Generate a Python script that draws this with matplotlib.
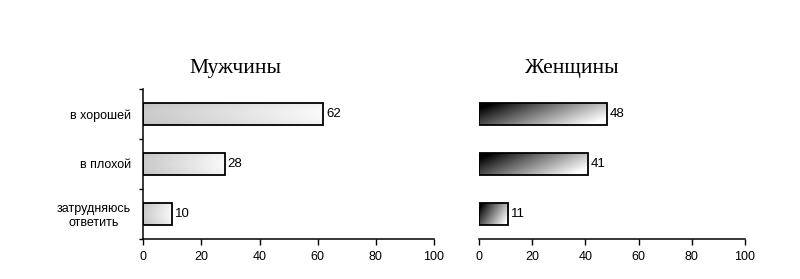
import numpy as np
import matplotlib
matplotlib.use("Agg")
import matplotlib.pyplot as plt

categories = ["в хорошей", "в плохой", "затрудняюсь\nответить"]
men = [62, 28, 10]
women = [48, 41, 11]
titles = ["Мужчины", "Женщины"]
xticks = [0, 20, 40, 60, 80, 100]

plt.rcParams['font.family'] = ['Liberation Sans', 'DejaVu Sans']

fig = plt.figure(figsize=(8, 2.79), dpi=100)
ax1 = fig.add_axes([0.179, 0.1434, 0.3635, 0.5376])
ax2 = fig.add_axes([0.599, 0.1434, 0.332, 0.5376])

ypos = np.arange(len(categories))[::-1]
h = 0.44


def men_grad(nx=200, ny=50):
    u = np.linspace(0, 1, nx)[None, :]
    v = np.linspace(0, 1, ny)[:, None]
    g = 0.76 + 0.19 * u + 0.03 * np.sin(np.pi * v)
    return np.clip(g, 0, 1)


def women_grad(nx=200, ny=50):
    u = np.linspace(0, 1, nx)[None, :]
    v = np.linspace(0, 1, ny)[:, None]
    g = (u + 0.45 * v - 0.12) / 1.2
    return np.clip(g, 0, 1) ** 0.9


for ax, vals, gf in [(ax1, men, men_grad), (ax2, women, women_grad)]:
    bars = ax.barh(ypos, vals, height=h, facecolor='none', edgecolor='black', linewidth=1.3, zorder=3)
    for b, v in zip(bars, vals):
        x0, y0 = b.get_x(), b.get_y()
        w, hh = b.get_width(), b.get_height()
        im = ax.imshow(gf(), cmap='gray', vmin=0, vmax=1, extent=(x0, x0 + w, y0, y0 + hh),
                       aspect='auto', origin='upper', zorder=2, interpolation='bilinear')
        im.set_clip_path(b)
        ax.text(x0 + w + 1.0, y0 + hh / 2, str(v), va='center', ha='left', fontsize=9.5, zorder=4)
    ax.set_xlim(0, 100)
    ax.set_ylim(-0.5, len(categories) - 0.5)
    ax.set_xticks(xticks)
    ax.tick_params(axis='x', direction='out', length=4, width=1, labelsize=9, pad=5)
    for s in ['top', 'right']:
        ax.spines[s].set_visible(False)
    ax.spines['bottom'].set_linewidth(1.1)

# titles (centered left of axes centre, as in the reference)
fig.text(235 / 800, 1 - 68 / 279, titles[0], ha='center', va='center',
         fontsize=15.5, family='Liberation Serif')
fig.text(572 / 800, 1 - 68 / 279, titles[1], ha='center', va='center',
         fontsize=15.5, family='Liberation Serif')

ax1.set_yticks([-0.5, 0.5, 1.5, 2.5])
ax1.set_yticklabels([])
ax1.set_yticks(ypos, labels=categories, minor=True)
ax1.tick_params(axis='y', which='major', direction='out', length=3, width=1)
ax1.tick_params(axis='y', which='minor', length=0, labelsize=9, pad=9)
for t in ax1.get_yticklabels(minor=True):
    t.set_multialignment('center')
ax1.spines['left'].set_linewidth(1.1)

ax2.spines['left'].set_visible(False)
ax2.set_yticks([])

fig.savefig("out.png", dpi=100)
